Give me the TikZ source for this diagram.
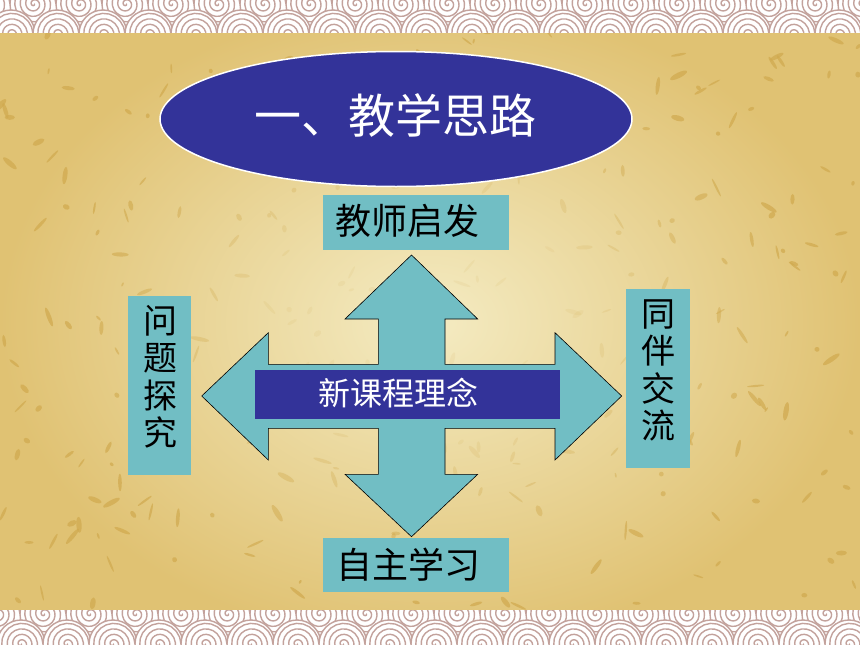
\documentclass[tikz,border=0pt]{standalone}
\usepackage{fontspec}
\newfontfamily\cjk{Noto Sans CJK SC}
\usetikzlibrary{shapes.geometric}
\definecolor{teal1}{HTML}{71BEC4}
\definecolor{navy1}{HTML}{333399}
\definecolor{parchin}{HTML}{F4EBC2}
\definecolor{parchout}{HTML}{E0C273}
\definecolor{borderbg}{HTML}{C3A29C}
\definecolor{stain}{HTML}{D0A94E}
\tikzset{
  boxstyle/.style={fill=teal1, draw=none, inner sep=0pt},
  labeltext/.style={font=\cjk\fontsize{36}{40}\selectfont, text=black, inner sep=0pt},
  vtext/.style={font=\cjk\fontsize{34}{37.5}\selectfont, text=black, align=center, inner sep=0pt},
  swirl/.style={draw=borderbg, line width=1.4pt},
}
\begin{document}
\begin{tikzpicture}[x=1pt,y=-1pt]
\useasboundingbox (0,0) rectangle (860,645);
% parchment background
\shade[inner color=parchin, outer color=parchout] (0,0) rectangle (860,645);
\pgfmathsetseed{7}
\foreach \k in {1,...,320} {
  \pgfmathsetmacro\sx{860*rnd}
  \pgfmathsetmacro\sy{30+580*rnd}
  \pgfmathsetmacro\sa{2+8*rnd}
  \pgfmathsetmacro\sb{0.8+2*rnd}
  \pgfmathsetmacro\sr{180*rnd}
  \pgfmathsetmacro\so{min(0.7,max(0.1,(veclen(\sx-430,(\sy-320)*1.3)-120)/350))}
  \fill[stain, opacity=\so, rotate around={\sr:(\sx,\sy)}] (\sx,\sy) ellipse ({\sa} and {\sb});
}
% top border
\begin{scope}
\clip (0,0) rectangle (860,32);
\fill[borderbg] (0,0) rectangle (860,32);
\foreach \yy/\off in {4/0, 34/23} {
  \foreach \i in {0,...,19} {
    \pgfmathsetmacro\xx{\i*46+\off-12}
    \fill[white] (\xx,\yy) circle (24);
    \draw[swirl] (\xx,\yy) circle (24);
    \draw[swirl] plot[domain=0:1440,samples=80,variable=\t] ({\xx+\t/1440*22*cos(\t)},{\yy+\t/1440*22*sin(\t)});
  }
}
\end{scope}
% bottom border
\begin{scope}
\clip (0,610) rectangle (860,645);
\fill[borderbg] (0,610) rectangle (860,645);
\foreach \yy/\off in {614/10, 644/33} {
  \foreach \i in {0,...,19} {
    \pgfmathsetmacro\xx{\i*46+\off-12}
    \fill[white] (\xx,\yy) circle (24);
    \draw[swirl] (\xx,\yy) circle (24);
    \draw[swirl] plot[domain=0:1440,samples=80,variable=\t] ({\xx+\t/1440*22*cos(\t)},{\yy+\t/1440*22*sin(\t)});
  }
}
\end{scope}
% title ellipse
\node[ellipse, fill=navy1, draw=white, line width=1.5pt, minimum width=472, minimum height=135, inner sep=0pt] (title) at (396,119) {};
\node[font=\cjk\fontsize{47}{50}\selectfont, text=white, inner sep=0pt] (titletext) at (395.4,115) {一、教学思路};
% four-way arrow
\draw[fill=teal1, draw=black, line width=0.6pt]
  (378.3,364.3) -- (378.3,319) -- (345,319) -- (411.5,255) -- (477.7,319) -- (445,319)
  -- (445,364.3) -- (555,364.3) -- (555,332.7) -- (621.7,396) -- (555,460) -- (555,428.3)
  -- (445,428.3) -- (445,474.3) -- (477.7,474.3) -- (411.5,536.7) -- (345,474.3) -- (378.3,474.3)
  -- (378.3,428.3) -- (268.3,428.3) -- (268.3,460) -- (201.7,396) -- (268.3,332.7) -- (268.3,364.3) -- cycle;
% center bar
\node[fill=navy1, inner sep=0pt, minimum width=305, minimum height=49, anchor=north west] (core) at (255,369.3) {};
\node[font=\cjk\fontsize{32}{36}\selectfont, text=white, inner sep=0pt] (coretext) at (398,393) {新课程理念};
% boxes
\node[boxstyle, minimum width=186.7, minimum height=54.3, anchor=north west] (topbox) at (322.3,195) {};
\node[labeltext] (toptext) at (407.8,221) {教师启发};
\node[boxstyle, minimum width=186.3, minimum height=54.4, anchor=north west] (botbox) at (322.7,537.3) {};
\node[labeltext] (bottext) at (408.3,564.7) {自主学习};
\node[boxstyle, minimum width=63.3, minimum height=178.6, anchor=north west] (leftbox) at (127.7,295.7) {};
\node[vtext] (lefttext) at (160.5,376.7) {问\\题\\探\\究};
\node[boxstyle, minimum width=63.3, minimum height=179.4, anchor=north west] (rightbox) at (626,288.3) {};
\node[vtext] (righttext) at (658.8,370.5) {同\\伴\\交\\流};
\end{tikzpicture}
\end{document}
